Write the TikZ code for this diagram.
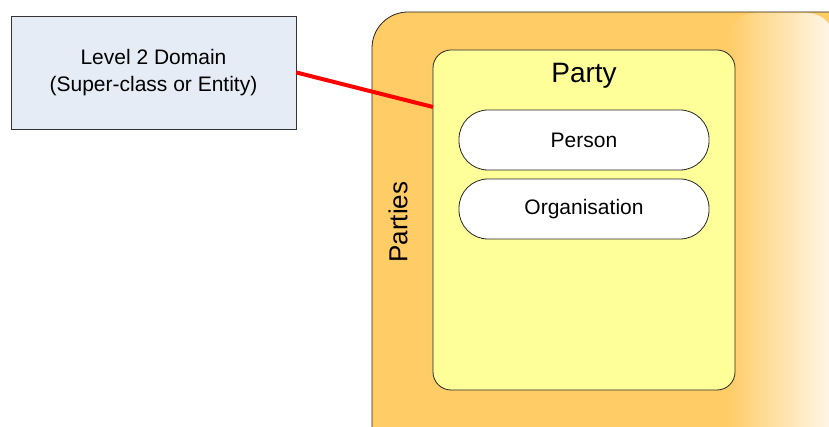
\documentclass[tikz,border=0pt]{standalone}
\usepackage{fontspec}
\setmainfont{Liberation Sans}
\definecolor{partiesfill}{HTML}{FFCC66}
\definecolor{partyfill}{HTML}{FFFF99}
\definecolor{domainfill}{HTML}{E6ECF6}
\definecolor{fadeend}{HTML}{FFF8EE}
\tikzset{
  domainbox/.style={draw=black!80, line width=0.8pt, fill=domainfill},
  groupbox/.style={draw=black!85, line width=0.8pt, fill=partiesfill, rounded corners=36pt},
  classbox/.style={draw=black!85, line width=0.8pt, fill=partyfill, rounded corners=18pt},
  pill/.style={draw=black!85, line width=0.8pt, fill=white, rounded corners=29pt,
    minimum width=250pt, minimum height=60pt, font=\fontsize{21}{25}\selectfont},
  link/.style={red, line width=4pt}
}
\begin{document}
\begin{tikzpicture}[x=1pt, y=-1pt]
\useasboundingbox (0,0) rectangle (829,427);
\begin{scope}
  \clip (0,0) rectangle (829,427);
  % outer group
  \draw[groupbox] (372,12) rectangle (920,470);
  % fading right edge
  \shade[left color=partiesfill, right color=fadeend, rounded corners=28pt]
    (727,13) rectangle (835,470);
\end{scope}
\node[rotate=90, font=\fontsize{26}{30}\selectfont] (parties) at (398,222) {Parties};
% class box
\draw[classbox] (433,50) rectangle (735,390);
\coordinate (partyedge) at (433,107);
\node[font=\fontsize{28}{32}\selectfont] (party) at (584,76) {Party};
\node[pill] (person) at (584,140) {Person};
\node[pill] (org) at (584,209) {Organisation};
% domain box
\node[domainbox, minimum width=285pt, minimum height=113pt, align=center,
  font=\fontsize{21}{27}\selectfont] (domain) at (153.5,72.5)
  {Level 2 Domain\\(Super-class or Entity)};
\draw[link] (domain.east) -- (partyedge);
\end{tikzpicture}
\end{document}
